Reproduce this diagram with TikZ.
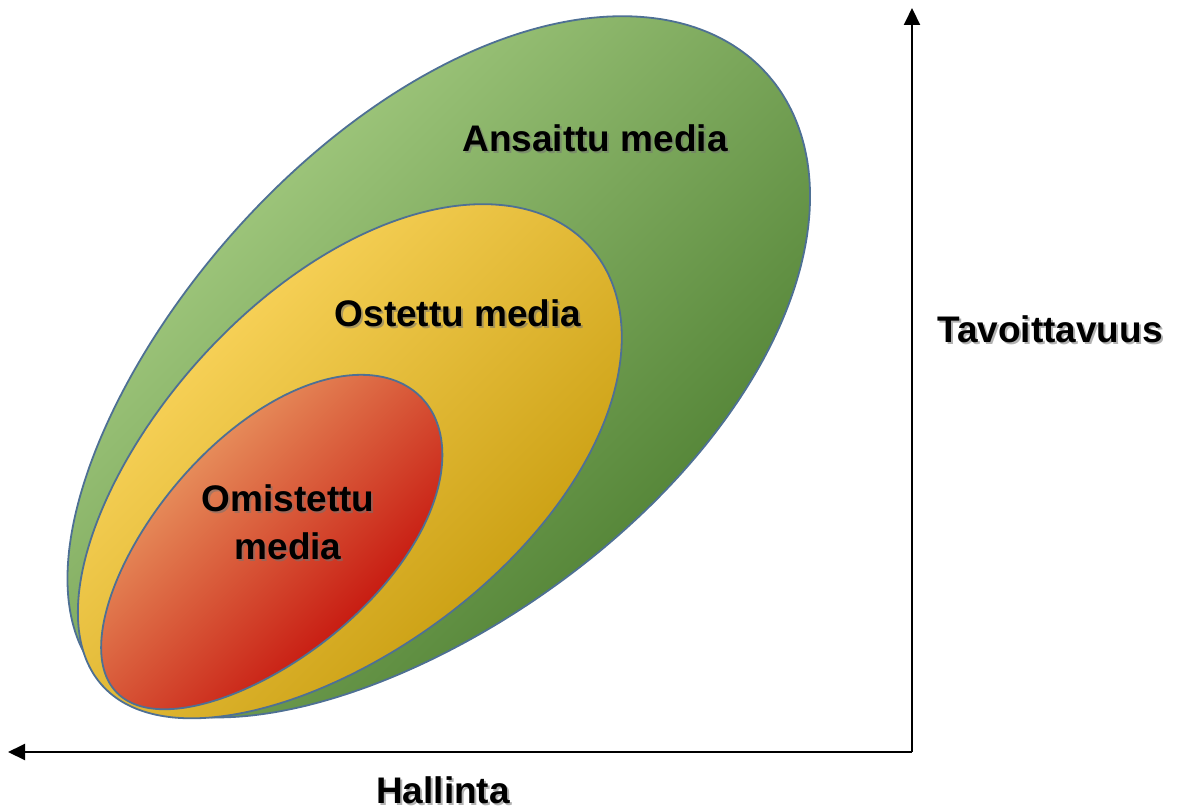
\documentclass[tikz,border=0pt]{standalone}
\usepackage{fontspec}
\setmainfont{Liberation Sans}
\usetikzlibrary{arrows.meta}

\definecolor{greenlight}{RGB}{172,210,136}
\definecolor{greenmid}{RGB}{116,178,74}
\definecolor{greendark}{RGB}{72,122,44}
\definecolor{yellowlight}{RGB}{255,218,100}
\definecolor{yellowmid}{RGB}{255,192,0}
\definecolor{yellowdark}{RGB}{196,152,8}
\definecolor{redlight}{RGB}{238,168,108}
\definecolor{redmid}{RGB}{226,96,28}
\definecolor{reddark}{RGB}{192,0,0}
\definecolor{edgeblue}{RGB}{78,112,148}

\tikzset{
  egg/.style={draw=edgeblue, line width=0.9pt},
  axisline/.style={line width=1pt, -{Triangle[length=8.5pt,width=8pt]}},
  lbl/.style={font=\bfseries\fontsize{18.5}{24}\selectfont, align=center, inner sep=0pt},
  lblshadow/.style={lbl, text=black!55, opacity=0.55},
}

\begin{document}
\begin{tikzpicture}[x=0.5pt, y=-0.5pt]
\useasboundingbox (0,0) rectangle (1181,812);

% draw eggs (centre, half axes, egg factor, tilt)
\shade[egg, top color=greenlight, middle color=greenmid, bottom color=greendark, shading angle=45]
  plot[domain=0:360, samples=145, smooth]
  ({433 + 449*cos(\x)*cos(42) + 243*sin(\x)*(1+0.09*cos(\x))*sin(42)},
   {374 - 449*cos(\x)*sin(42) + 243*sin(\x)*(1+0.09*cos(\x))*cos(42)}) -- cycle;
\shade[egg, top color=yellowlight, middle color=yellowmid, bottom color=yellowdark, shading angle=45]
  plot[domain=0:360, samples=145, smooth]
  ({346 + 328*cos(\x)*cos(42) + 180*sin(\x)*(1+0.08*cos(\x))*sin(42)},
   {466 - 328*cos(\x)*sin(42) + 180*sin(\x)*(1+0.08*cos(\x))*cos(42)}) -- cycle;
\shade[egg, top color=redlight, middle color=redmid, bottom color=reddark, shading angle=45]
  plot[domain=0:360, samples=145, smooth]
  ({269 + 212*cos(\x)*cos(44) + 110*sin(\x)*(1+0.09*cos(\x))*sin(44)},
   {545 - 212*cos(\x)*sin(44) + 110*sin(\x)*(1+0.09*cos(\x))*cos(44)}) -- cycle;

% draw labels
\node[lblshadow] (ansaittuS) at (597,140) {Ansaittu media};
\node[lbl] (ansaittu) at (595,138) {Ansaittu media};
\node[lblshadow] (ostettuS) at (460,315) {Ostettu media};
\node[lbl] (ostettu) at (458,313) {Ostettu media};
\node[lblshadow] (omistettuS) at (290,524) {Omistettu\\media};
\node[lbl] (omistettu) at (288,522) {Omistettu\\media};

% draw axes
\coordinate (origin) at (912,752);
\coordinate (ytip) at (912,8);
\coordinate (xtip) at (8,752);
\draw[axisline] (origin) -- (ytip);
\draw[axisline] (origin) -- (xtip);
\node[lblshadow] (tavoittavuusS) at (1052,331) {Tavoittavuus};
\node[lbl] (tavoittavuus) at (1050,329) {Tavoittavuus};
\node[lblshadow] (hallintaS) at (445,792) {Hallinta};
\node[lbl] (hallinta) at (443,790) {Hallinta};

\end{tikzpicture}
\end{document}
